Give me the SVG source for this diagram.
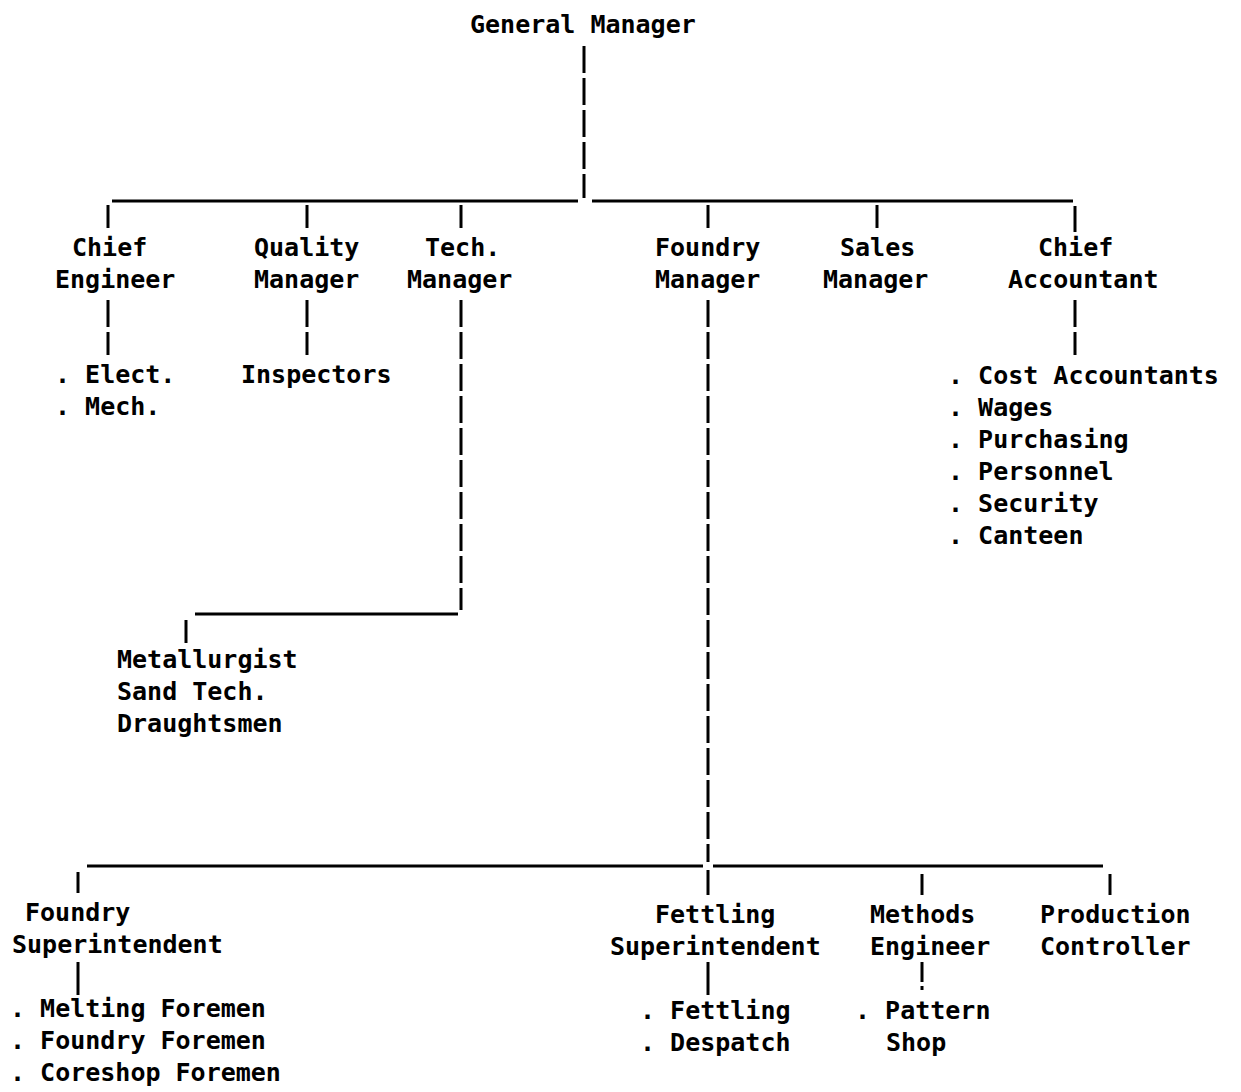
<svg xmlns="http://www.w3.org/2000/svg" width="1241" height="1092" viewBox="0 0 1241 1092">
<style>
text{font-family:"DejaVu Sans Mono","Liberation Mono",monospace;font-weight:bold;font-size:25px;fill:#000}
line{stroke:#000;stroke-width:3;fill:none}
.v{stroke-dasharray:27 5}
</style>
<rect width="1241" height="1092" fill="#fff"/>
<g id="connectors">
<line class="v" x1="584" y1="46" x2="584" y2="198"/>
<line x1="112" y1="201" x2="578" y2="201"/>
<line x1="592" y1="201" x2="1073" y2="201"/>
<line x1="108" y1="205" x2="108" y2="228"/>
<line x1="307" y1="205" x2="307" y2="228"/>
<line x1="461" y1="205" x2="461" y2="228"/>
<line x1="708" y1="205" x2="708" y2="228"/>
<line x1="877" y1="205" x2="877" y2="228"/>
<line x1="1075" y1="206" x2="1075" y2="232"/>
<line class="v" x1="108" y1="300" x2="108" y2="355"/>
<line class="v" x1="307" y1="300" x2="307" y2="355"/>
<line class="v" x1="1075" y1="300" x2="1075" y2="355"/>
<line class="v" x1="461" y1="300" x2="461" y2="610"/>
<line x1="195" y1="614" x2="458" y2="614"/>
<line x1="186" y1="620" x2="186" y2="643"/>
<line class="v" x1="708" y1="300" x2="708" y2="862"/>
<line x1="87" y1="866" x2="703" y2="866"/>
<line x1="713" y1="866" x2="1103" y2="866"/>
<line x1="78" y1="872" x2="78" y2="893"/>
<line x1="708" y1="870" x2="708" y2="895"/>
<line x1="922" y1="874" x2="922" y2="895"/>
<line x1="1110" y1="874" x2="1110" y2="895"/>
<line x1="78" y1="962" x2="78" y2="995"/>
<line x1="708" y1="962" x2="708" y2="995"/>
<line x1="922" y1="962" x2="922" y2="990" style="stroke-dasharray:20 4 4 10"/>
</g>
<g id="general-manager"><text x="470" y="33">General Manager</text></g>
<g id="chief-engineer"><text x="72" y="256">Chief</text><text x="55" y="288">Engineer</text></g>
<g id="quality-manager"><text x="254" y="256">Quality</text><text x="254" y="288">Manager</text></g>
<g id="tech-manager"><text x="425" y="256">Tech.</text><text x="407" y="288">Manager</text></g>
<g id="foundry-manager"><text x="655" y="256">Foundry</text><text x="655" y="288">Manager</text></g>
<g id="sales-manager"><text x="840" y="256">Sales</text><text x="823" y="288">Manager</text></g>
<g id="chief-accountant"><text x="1038" y="256">Chief</text><text x="1008" y="288">Accountant</text></g>
<g id="ce-sub"><text x="55" y="383">. Elect.</text><text x="55" y="415">. Mech.</text></g>
<g id="inspectors"><text x="241" y="383">Inspectors</text></g>
<g id="ca-sub">
<text x="948" y="384">. Cost Accountants</text>
<text x="948" y="416">. Wages</text>
<text x="948" y="448">. Purchasing</text>
<text x="948" y="480">. Personnel</text>
<text x="948" y="512">. Security</text>
<text x="948" y="544">. Canteen</text>
</g>
<g id="tech-sub">
<text x="117" y="668">Metallurgist</text>
<text x="117" y="700">Sand Tech.</text>
<text x="117" y="732">Draughtsmen</text>
</g>
<g id="foundry-superintendent"><text x="25" y="921">Foundry</text><text x="12" y="953">Superintendent</text></g>
<g id="fs-sub">
<text x="10" y="1017">. Melting Foremen</text>
<text x="10" y="1049">. Foundry Foremen</text>
<text x="10" y="1081">. Coreshop Foremen</text>
</g>
<g id="fettling-superintendent"><text x="655" y="923">Fettling</text><text x="610" y="955">Superintendent</text></g>
<g id="fet-sub"><text x="640" y="1019">. Fettling</text><text x="640" y="1051">. Despatch</text></g>
<g id="methods-engineer"><text x="870" y="923">Methods</text><text x="870" y="955">Engineer</text></g>
<g id="me-sub"><text x="855" y="1019">. Pattern</text><text x="886" y="1051">Shop</text></g>
<g id="production-controller"><text x="1040" y="923">Production</text><text x="1040" y="955">Controller</text></g>
</svg>
